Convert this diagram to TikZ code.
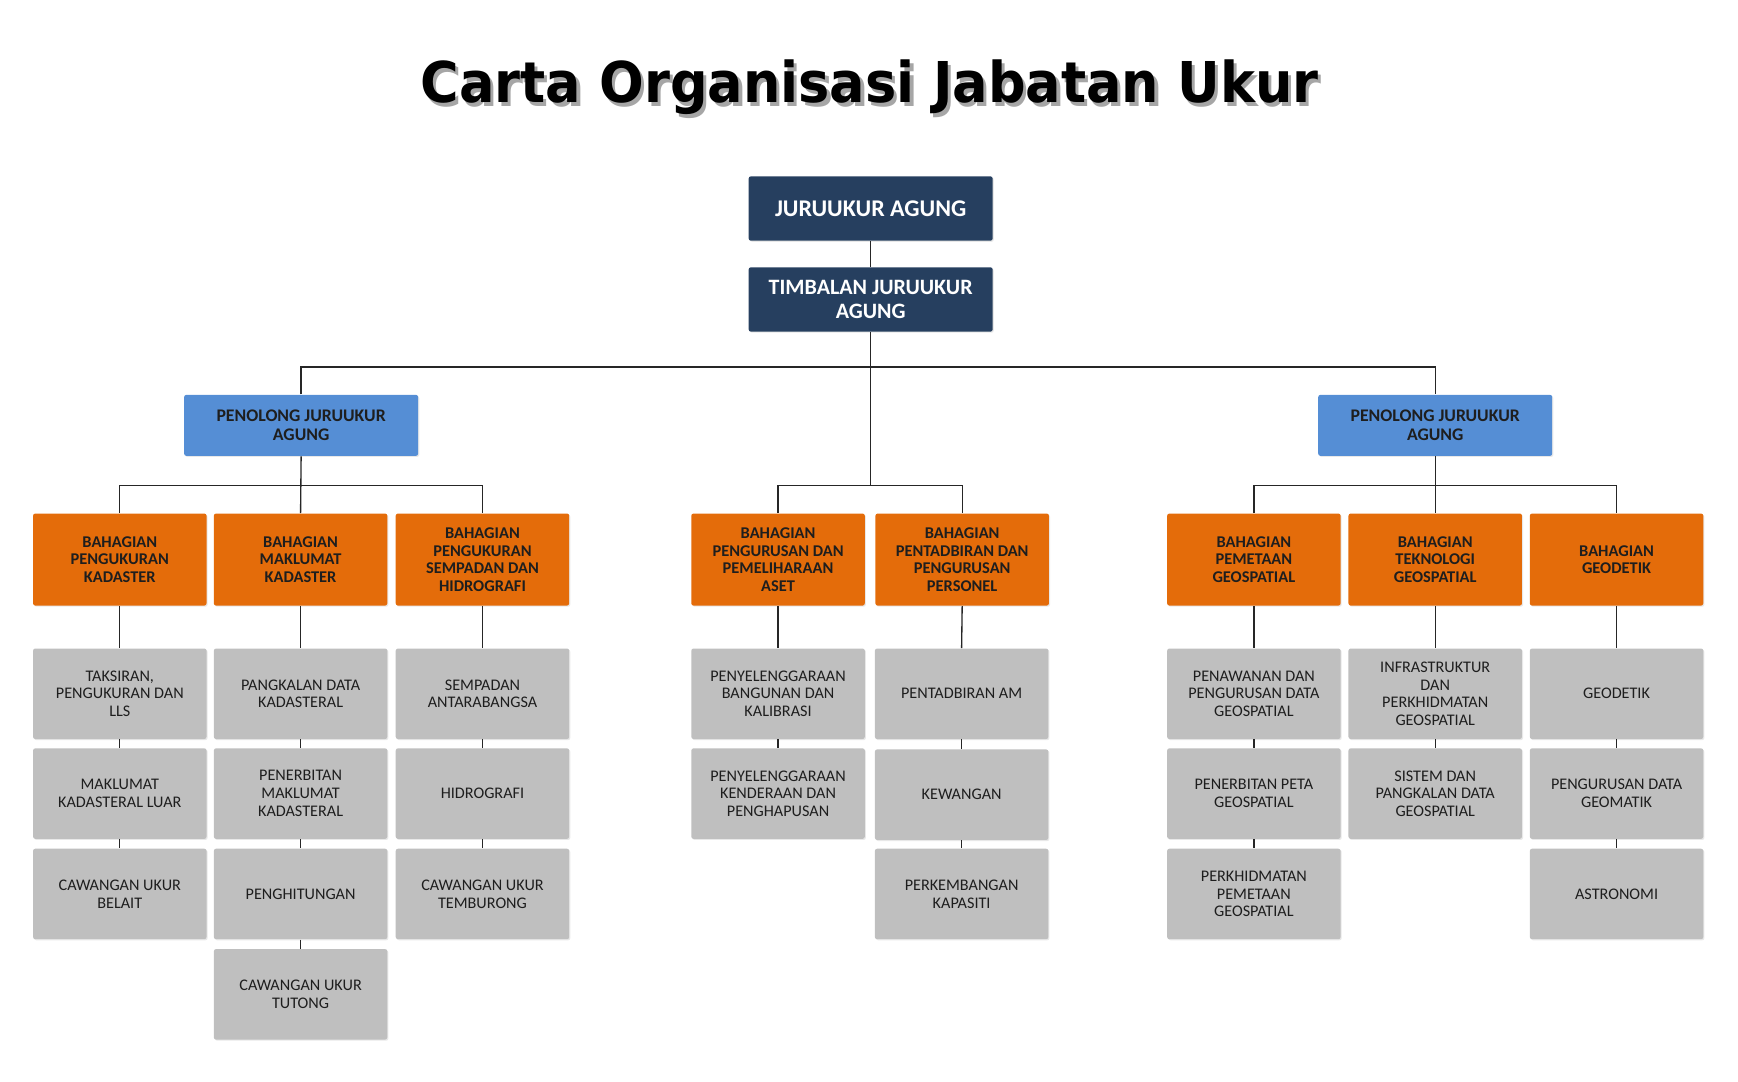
\documentclass[tikz,border=0pt]{standalone}
\usepackage{fontspec}
\setmainfont{Carlito}
\newfontfamily\titlefont{DejaVu Sans}
\usetikzlibrary{shadows}
\definecolor{navyc}{HTML}{263F5F}
\definecolor{bluec}{HTML}{558ED5}
\definecolor{orangec}{HTML}{E46C0A}
\definecolor{grayc}{HTML}{BFBFBF}
\definecolor{txtc}{HTML}{1E1E1E}
\tikzset{
  box/.style={rounded corners=1pt, align=center, inner sep=0pt,
    drop shadow={shadow xshift=0.5pt, shadow yshift=-0.5pt, opacity=0.18}},
  navybox/.style={box, fill=navyc, text=white, minimum width=110pt, minimum height=29pt,
    font=\bfseries\fontsize{9.9}{10.5}\selectfont},
  bluebox/.style={box, fill=bluec, text=txtc, minimum width=105.5pt, minimum height=27.5pt,
    font=\bfseries\fontsize{8}{8.5}\selectfont},
  orangebox/.style={box, fill=orangec, text=txtc, minimum width=78.2pt, minimum height=41.5pt,
    font=\bfseries\fontsize{7.4}{8}\selectfont},
  graybox/.style={box, fill=grayc, text=txtc, minimum width=78.2pt, minimum height=40.8pt,
    font=\fontsize{7.3}{8}\selectfont},
  conn/.style={draw=black!85, line width=0.6pt},
  titlestyle/.style={font=\titlefont\bfseries\fontsize{23.7}{28}\selectfont}
}
\begin{document}
\begin{tikzpicture}[x=0.5pt,y=-0.5pt]
\useasboundingbox (0,0) rectangle (1567,975.5);
% title
\node[text=black!35, titlestyle] (titlesh) at (787,82) {\scalebox{1}[1.07]{Carta Organisasi Jabatan Ukur}};
\node[text=black, titlestyle] (title) at (784,79) {\scalebox{1}[1.07]{Carta Organisasi Jabatan Ukur}};
% top
\node[navybox, font=\bfseries\fontsize{10.8}{11}\selectfont] (JA) at (785,188) {JURUUKUR AGUNG};
\node[navybox] (TJ) at (785,270) {TIMBALAN JURUUKUR\\AGUNG};
\node[bluebox] (PL) at (271.5,383.5) {PENOLONG JURUUKUR\\AGUNG};
\node[bluebox] (PR) at (1294,383.5) {PENOLONG JURUUKUR\\AGUNG};
% orange
\node[orangebox] (L1) at (108,504.5) {BAHAGIAN\\PENGUKURAN\\KADASTER};
\node[orangebox] (L2) at (271,504.5) {BAHAGIAN\\MAKLUMAT\\KADASTER};
\node[orangebox] (L3) at (435,504.5) {BAHAGIAN\\PENGUKURAN\\SEMPADAN DAN\\HIDROGRAFI};
\node[orangebox] (M1) at (701.5,504.5) {BAHAGIAN\\PENGURUSAN DAN\\PEMELIHARAAN\\ASET};
\node[orangebox] (M2) at (867.5,504.5) {BAHAGIAN\\PENTADBIRAN DAN\\PENGURUSAN\\PERSONEL};
\node[orangebox] (R1) at (1130.5,504.5) {BAHAGIAN\\PEMETAAN\\GEOSPATIAL};
\node[orangebox] (R2) at (1294,504.5) {BAHAGIAN\\TEKNOLOGI\\GEOSPATIAL};
\node[orangebox] (R3) at (1457.5,504.5) {BAHAGIAN\\GEODETIK};
% gray L1
\node[graybox] (L1a) at (108,625.5) {TAKSIRAN,\\PENGUKURAN DAN\\LLS};
\node[graybox] (L1b) at (108,715.5) {MAKLUMAT\\KADASTERAL LUAR};
\node[graybox] (L1c) at (108,806) {CAWANGAN UKUR\\BELAIT};
% gray L2
\node[graybox] (L2a) at (271,625.5) {PANGKALAN DATA\\KADASTERAL};
\node[graybox] (L2b) at (271,715.5) {PENERBITAN\\MAKLUMAT\\KADASTERAL};
\node[graybox] (L2c) at (271,806) {PENGHITUNGAN};
\node[graybox] (L2d) at (271,896.5) {CAWANGAN UKUR\\TUTONG};
% gray L3
\node[graybox] (L3a) at (435,625.5) {SEMPADAN\\ANTARABANGSA};
\node[graybox] (L3b) at (435,715.5) {HIDROGRAFI};
\node[graybox] (L3c) at (435,806) {CAWANGAN UKUR\\TEMBURONG};
% gray M1
\node[graybox] (M1a) at (701.5,625.5) {PENYELENGGARAAN\\BANGUNAN DAN\\KALIBRASI};
\node[graybox] (M1b) at (701.5,715.5) {PENYELENGGARAAN\\KENDERAAN DAN\\PENGHAPUSAN};
% gray M2
\node[graybox] (M2a) at (867,625.5) {PENTADBIRAN AM};
\node[graybox] (M2b) at (867,716.5) {KEWANGAN};
\node[graybox] (M2c) at (867,806) {PERKEMBANGAN\\KAPASITI};
% gray R1
\node[graybox] (R1a) at (1130.5,625.5) {PENAWANAN DAN\\PENGURUSAN DATA\\GEOSPATIAL};
\node[graybox] (R1b) at (1130.5,715.5) {PENERBITAN PETA\\GEOSPATIAL};
\node[graybox] (R1c) at (1130.5,806) {PERKHIDMATAN\\PEMETAAN\\GEOSPATIAL};
% gray R2
\node[graybox] (R2a) at (1294,625.5) {INFRASTRUKTUR\\DAN\\PERKHIDMATAN\\GEOSPATIAL};
\node[graybox] (R2b) at (1294,715.5) {SISTEM DAN\\PANGKALAN DATA\\GEOSPATIAL};
% gray R3
\node[graybox] (R3a) at (1457.5,625.5) {GEODETIK};
\node[graybox] (R3b) at (1457.5,715.5) {PENGURUSAN DATA\\GEOMATIK};
\node[graybox] (R3c) at (1457.5,806) {ASTRONOMI};
% bus coordinates
\coordinate (topbus) at (785,331);
\coordinate (midbus) at (785,438);
\coordinate (lbus) at (271.5,438);
\coordinate (rbus) at (1294,438);
% connectors
\draw[conn] (JA.south) -- (TJ.north);
\draw[conn] (TJ.south) -- (midbus);
\draw[conn] (PL.north) -- (PL.north |- topbus) -- (PR.north |- topbus) -- (PR.north);
\draw[conn] (M1.north) |- (midbus) -| (M2.north);
\draw[conn] (PL.south) -- (L2.north);
\draw[conn] (L1.north) |- (lbus) -| (L3.north);
\draw[conn] (PR.south) -- (R2.north);
\draw[conn] (R1.north) |- (rbus) -| (R3.north);
\foreach \o/\g in {L1/L1a,L1a/L1b,L1b/L1c,
                   L2/L2a,L2a/L2b,L2b/L2c,L2c/L2d,
                   L3/L3a,L3a/L3b,L3b/L3c,
                   M1/M1a,M1a/M1b,
                   M2/M2a,M2a/M2b,M2b/M2c,
                   R1/R1a,R1a/R1b,R1b/R1c,
                   R2/R2a,R2a/R2b,
                   R3/R3a,R3a/R3b,R3b/R3c}
  \draw[conn] (\o.south) -- (\g.north);
\end{tikzpicture}
\end{document}
